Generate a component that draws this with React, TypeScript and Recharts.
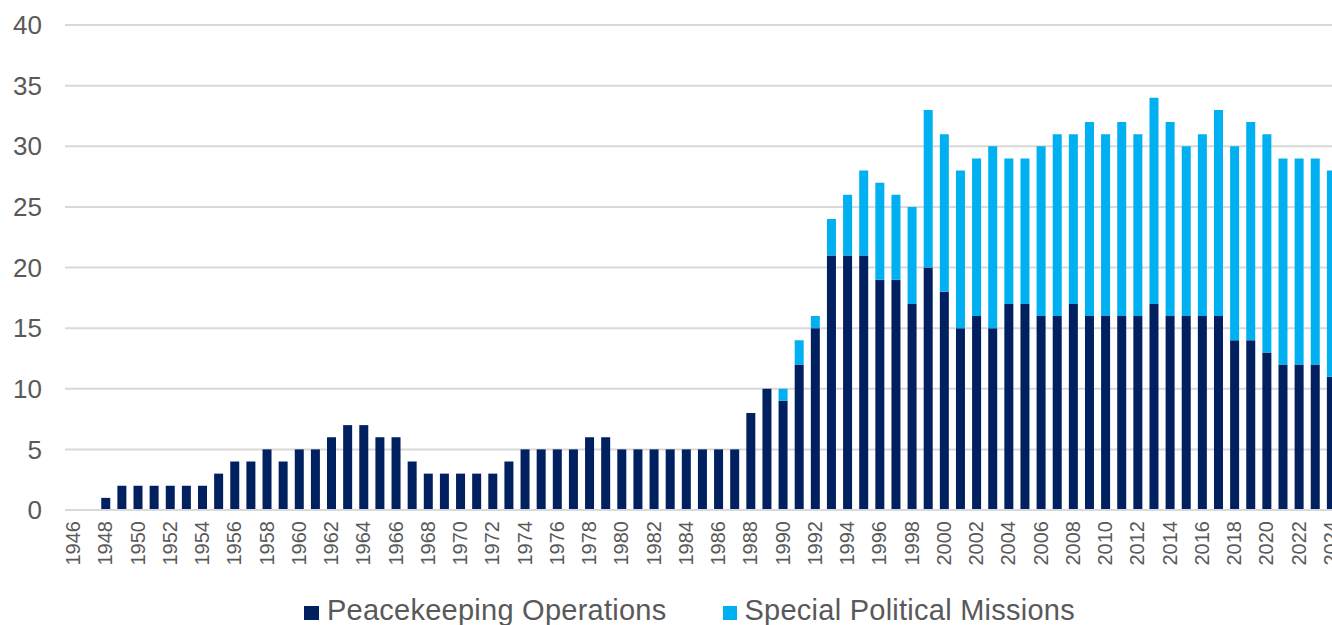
import React from "react";
import { BarChart, Bar, XAxis, YAxis, CartesianGrid, Legend } from "recharts";

const years = [
  "1946", "1947", "1948", "1949", "1950", "1951", "1952", "1953", "1954", "1955",
  "1956", "1957", "1958", "1959", "1960", "1961", "1962", "1963", "1964", "1965",
  "1966", "1967", "1968", "1969", "1970", "1971", "1972", "1973", "1974", "1975",
  "1976", "1977", "1978", "1979", "1980", "1981", "1982", "1983", "1984", "1985",
  "1986", "1987", "1988", "1989", "1990", "1991", "1992", "1993", "1994", "1995",
  "1996", "1997", "1998", "1999", "2000", "2001", "2002", "2003", "2004", "2005",
  "2006", "2007", "2008", "2009", "2010", "2011", "2012", "2013", "2014", "2015",
  "2016", "2017", "2018", "2019", "2020", "2021", "2022", "2023", "2024",
];

const peacekeeping = [
  0, 0, 1, 2, 2, 2, 2, 2, 2, 3,
  4, 4, 5, 4, 5, 5, 6, 7, 7, 6,
  6, 4, 3, 3, 3, 3, 3, 4, 5, 5,
  5, 5, 6, 6, 5, 5, 5, 5, 5, 5,
  5, 5, 8, 10, 9, 12, 15, 21, 21, 21,
  19, 19, 17, 20, 18, 15, 16, 15, 17, 17,
  16, 16, 17, 16, 16, 16, 16, 17, 16, 16,
  16, 16, 14, 14, 13, 12, 12, 12, 11,
];

const specialPolitical = [
  0, 0, 0, 0, 0, 0, 0, 0, 0, 0,
  0, 0, 0, 0, 0, 0, 0, 0, 0, 0,
  0, 0, 0, 0, 0, 0, 0, 0, 0, 0,
  0, 0, 0, 0, 0, 0, 0, 0, 0, 0,
  0, 0, 0, 0, 1, 2, 1, 3, 5, 7,
  8, 7, 8, 13, 13, 13, 13, 15, 12, 12,
  14, 15, 14, 16, 15, 16, 15, 17, 16, 14,
  15, 17, 16, 18, 18, 17, 17, 17, 17,
];

const yTicks = [0, 5, 10, 15, 20, 25, 30, 35, 40];

const seriesNames = ["Peacekeeping Operations", "Special Political Missions"];
const seriesColors = ["#002060", "#00B0F0"];

const data = years.map((y, i) => ({
  year: y,
  pko: peacekeeping[i],
  spm: specialPolitical[i],
}));

const FONT = "'Liberation Sans', Arial, Helvetica, sans-serif";
const TEXT = "#595959";
const GRID = "#D9D9D9";

const XTick = (props: any) => {
  const { x, y, payload } = props;
  return (
    <text
      x={x}
      y={y}
      transform={`rotate(-90 ${x} ${y})`}
      textAnchor="end"
      dominantBaseline="central"
      fill={TEXT}
      fontSize={20}
      fontFamily={FONT}
    >
      {payload.value}
    </text>
  );
};

const LegendContent = () => (
  <div
    style={{
      height: 40,
      boxSizing: "border-box",
      paddingTop: 10,
      paddingLeft: 304,
      display: "flex",
      alignItems: "center",
      fontFamily: FONT,
      fontSize: 29,
      letterSpacing: 0.25,
      color: TEXT,
      whiteSpace: "nowrap",
    }}
  >
    <span style={{ width: 15, height: 14, background: seriesColors[0], marginTop: 6, marginRight: 8, display: "inline-block" }} />
    <span>{seriesNames[0]}</span>
    <span style={{ width: 14, height: 14, background: seriesColors[1], marginTop: 6, marginLeft: 57, marginRight: 7, display: "inline-block" }} />
    <span>{seriesNames[1]}</span>
  </div>
);

export default function App() {
  return (
    <div
      style={{
        position: "fixed",
        left: 0,
        top: 0,
        width: 1332,
        height: 625,
        overflow: "hidden",
        background: "#fff",
      }}
    >
      <BarChart
        width={1339}
        height={625}
        data={data}
        margin={{ top: 25, right: 0, left: 0, bottom: 0 }}
        barSize={9}
      >
        <CartesianGrid vertical={false} stroke={GRID} strokeWidth={2} />
        <XAxis
          dataKey="year"
          interval={1}
          tickLine={false}
          tickSize={0}
          tickMargin={11}
          axisLine={{ stroke: GRID, strokeWidth: 2 }}
          tick={<XTick />}
          height={75}
        />
        <YAxis
          width={65}
          domain={[0, 40]}
          ticks={yTicks}
          tickLine={false}
          axisLine={false}
          tickSize={0}
          tickMargin={23}
          tick={{ fill: TEXT, fontSize: 26, fontFamily: FONT }}
        />
        <Legend verticalAlign="bottom" content={<LegendContent />} />
        <Bar dataKey="pko" stackId="a" fill={seriesColors[0]} name={seriesNames[0]} isAnimationActive={false} />
        <Bar dataKey="spm" stackId="a" fill={seriesColors[1]} name={seriesNames[1]} isAnimationActive={false} />
      </BarChart>
    </div>
  );
}
